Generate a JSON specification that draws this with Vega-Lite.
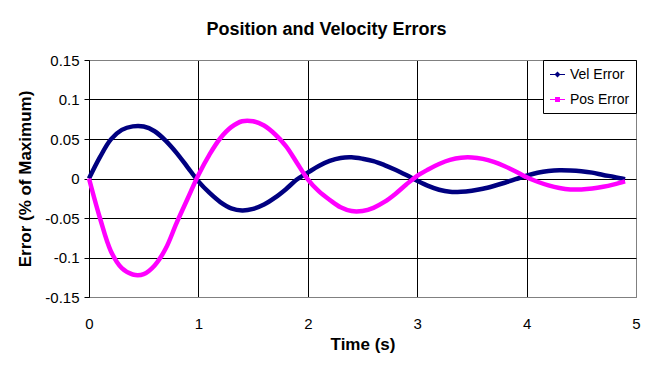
{
  "$schema": "https://vega.github.io/schema/vega-lite/v6.json",
  "width": 547,
  "height": 237,
  "autosize": {"type": "none"},
  "padding": {"left": 89, "top": 60, "right": 20, "bottom": 72},
  "background": "white",
  "title": {"text": "Position and Velocity Errors", "font": "Liberation Sans", "fontSize": 18, "fontWeight": "bold", "color": "black", "anchor": "middle", "dx": -36, "offset": 14},
  "data": {"values": [
    {"t":0,"s":"Vel Error","v":0},{"t":0.1,"s":"Vel Error","v":0.027},{"t":0.2,"s":"Vel Error","v":0.0495},{"t":0.3,"s":"Vel Error","v":0.0615},{"t":0.4,"s":"Vel Error","v":0.066},
    {"t":0.5,"s":"Vel Error","v":0.0658},{"t":0.6,"s":"Vel Error","v":0.0598},{"t":0.7,"s":"Vel Error","v":0.048},{"t":0.8,"s":"Vel Error","v":0.0325},{"t":0.9,"s":"Vel Error","v":0.0145},
    {"t":1.0,"s":"Vel Error","v":-0.0036},{"t":1.1,"s":"Vel Error","v":-0.018},{"t":1.2,"s":"Vel Error","v":-0.0298},{"t":1.3,"s":"Vel Error","v":-0.0377},{"t":1.4,"s":"Vel Error","v":-0.0404},
    {"t":1.5,"s":"Vel Error","v":-0.0385},{"t":1.6,"s":"Vel Error","v":-0.033},{"t":1.7,"s":"Vel Error","v":-0.0243},{"t":1.8,"s":"Vel Error","v":-0.0135},{"t":1.9,"s":"Vel Error","v":-0.0013},
    {"t":2.0,"s":"Vel Error","v":0.0074},{"t":2.1,"s":"Vel Error","v":0.0158},{"t":2.2,"s":"Vel Error","v":0.0222},{"t":2.3,"s":"Vel Error","v":0.026},{"t":2.4,"s":"Vel Error","v":0.0268},
    {"t":2.5,"s":"Vel Error","v":0.025},{"t":2.6,"s":"Vel Error","v":0.022},{"t":2.7,"s":"Vel Error","v":0.017},{"t":2.8,"s":"Vel Error","v":0.011},{"t":2.9,"s":"Vel Error","v":0.0043},
    {"t":3.0,"s":"Vel Error","v":-0.0028},{"t":3.1,"s":"Vel Error","v":-0.0093},{"t":3.2,"s":"Vel Error","v":-0.0142},{"t":3.3,"s":"Vel Error","v":-0.0168},{"t":3.4,"s":"Vel Error","v":-0.0168},
    {"t":3.5,"s":"Vel Error","v":-0.0154},{"t":3.6,"s":"Vel Error","v":-0.013},{"t":3.7,"s":"Vel Error","v":-0.0095},{"t":3.8,"s":"Vel Error","v":-0.0054},{"t":3.9,"s":"Vel Error","v":-0.0009},
    {"t":4.0,"s":"Vel Error","v":0.0036},{"t":4.1,"s":"Vel Error","v":0.0072},{"t":4.2,"s":"Vel Error","v":0.0095},{"t":4.3,"s":"Vel Error","v":0.0105},{"t":4.4,"s":"Vel Error","v":0.0102},
    {"t":4.5,"s":"Vel Error","v":0.0092},{"t":4.6,"s":"Vel Error","v":0.0074},{"t":4.7,"s":"Vel Error","v":0.0045},{"t":4.8,"s":"Vel Error","v":0.002},{"t":4.9,"s":"Vel Error","v":-0.001},
    {"t":0,"s":"Pos Error","v":0},{"t":0.1,"s":"Pos Error","v":-0.05},{"t":0.2,"s":"Pos Error","v":-0.092},{"t":0.3,"s":"Pos Error","v":-0.1135},{"t":0.4,"s":"Pos Error","v":-0.1215},
    {"t":0.5,"s":"Pos Error","v":-0.121},{"t":0.6,"s":"Pos Error","v":-0.11},{"t":0.7,"s":"Pos Error","v":-0.089},{"t":0.8,"s":"Pos Error","v":-0.0565},{"t":0.9,"s":"Pos Error","v":-0.026},
    {"t":1.0,"s":"Pos Error","v":0.0045},{"t":1.1,"s":"Pos Error","v":0.03},{"t":1.2,"s":"Pos Error","v":0.051},{"t":1.3,"s":"Pos Error","v":0.065},{"t":1.4,"s":"Pos Error","v":0.0725},
    {"t":1.5,"s":"Pos Error","v":0.0725},{"t":1.6,"s":"Pos Error","v":0.067},{"t":1.7,"s":"Pos Error","v":0.056},{"t":1.8,"s":"Pos Error","v":0.041},{"t":1.9,"s":"Pos Error","v":0.02},
    {"t":2.0,"s":"Pos Error","v":-0.001},{"t":2.1,"s":"Pos Error","v":-0.016},{"t":2.2,"s":"Pos Error","v":-0.027},{"t":2.3,"s":"Pos Error","v":-0.0364},{"t":2.4,"s":"Pos Error","v":-0.0412},
    {"t":2.5,"s":"Pos Error","v":-0.0411},{"t":2.6,"s":"Pos Error","v":-0.0371},{"t":2.7,"s":"Pos Error","v":-0.0297},{"t":2.8,"s":"Pos Error","v":-0.0195},{"t":2.9,"s":"Pos Error","v":-0.0076},
    {"t":3.0,"s":"Pos Error","v":0.0034},{"t":3.1,"s":"Pos Error","v":0.0114},{"t":3.2,"s":"Pos Error","v":0.0183},{"t":3.3,"s":"Pos Error","v":0.0235},{"t":3.4,"s":"Pos Error","v":0.0263},
    {"t":3.5,"s":"Pos Error","v":0.0266},{"t":3.6,"s":"Pos Error","v":0.0248},{"t":3.7,"s":"Pos Error","v":0.021},{"t":3.8,"s":"Pos Error","v":0.0155},{"t":3.9,"s":"Pos Error","v":0.0089},
    {"t":4.0,"s":"Pos Error","v":0.0015},{"t":4.1,"s":"Pos Error","v":-0.0041},{"t":4.2,"s":"Pos Error","v":-0.0087},{"t":4.3,"s":"Pos Error","v":-0.012},{"t":4.4,"s":"Pos Error","v":-0.0138},
    {"t":4.5,"s":"Pos Error","v":-0.0138},{"t":4.6,"s":"Pos Error","v":-0.0127},{"t":4.7,"s":"Pos Error","v":-0.0105},{"t":4.8,"s":"Pos Error","v":-0.0074},{"t":4.9,"s":"Pos Error","v":-0.0037}
  ]},
  "mark": {"type": "line", "strokeWidth": 4.5, "clip": false, "interpolate": "catmull-rom"},
  "encoding": {
    "x": {
      "field": "t", "type": "quantitative",
      "scale": {"domain": [0, 5], "nice": false, "zero": false},
      "axis": {
        "values": [0, 1, 2, 3, 4, 5],
        "title": "Time (s)", "titleFont": "Liberation Sans", "titleFontSize": 17, "titleFontWeight": "bold", "titleColor": "black", "titlePadding": 5,
        "labelFont": "Liberation Sans", "labelFontSize": 15, "labelColor": "black", "labelPadding": 19,
        "ticks": false, "domain": false, "grid": true, "gridOpacity": 1, "gridWidth": 1,
        "gridColor": {"condition": {"test": "datum.value == 5", "value": "#808080"}, "value": "black"},
        "labelFlush": false, "labelOverlap": false
      }
    },
    "y": {
      "field": "v", "type": "quantitative",
      "scale": {"domain": [-0.15, 0.15], "nice": false, "zero": false},
      "axis": {
        "values": [-0.15, -0.1, -0.05, 0, 0.05, 0.1, 0.15],
        "labelExpr": "'' + datum.value",
        "title": "Error (% of Maximum)", "titleFont": "Liberation Sans", "titleFontSize": 17, "titleFontWeight": "bold", "titleColor": "black", "titlePadding": 10,
        "labelFont": "Liberation Sans", "labelFontSize": 15, "labelColor": "black", "labelPadding": 5,
        "ticks": true, "tickSize": 5, "tickColor": "black", "domain": true, "domainColor": "black",
        "grid": true, "gridOpacity": 1, "gridWidth": 1,
        "gridColor": {"condition": {"test": "abs(datum.value) > 0.14", "value": "#808080"}, "value": "black"},
        "labelFlush": false, "labelOverlap": false
      }
    },
    "color": {
      "field": "s", "type": "nominal",
      "scale": {"domain": ["Vel Error", "Pos Error"], "range": ["#000080", "#FF00FF"]},
      "legend": {
        "title": null, "orient": "top-right", "offset": 0,
        "strokeColor": "black", "fillColor": "white", "padding": 6, "rowPadding": 9,
        "labelFont": "Liberation Sans", "labelFontSize": 14, "labelColor": "black", "labelOffset": 4,
        "symbolSize": 225, "symbolStrokeWidth": 1.2,
        "encode": {"symbols": {"update": {
          "fill": {"signal": "scale('color', datum.value)"},
          "shape": {"signal": "datum.value == 'Vel Error' ? 'M-1,0H1M-0.28,0L0,-0.28L0.28,0L0,0.28Z' : 'M-1,0H1M-0.25,-0.25H0.25V0.25H-0.25Z'"}
        }}}
      }
    }
  },
  "config": {"view": {"stroke": "#808080", "strokeWidth": 1}}
}
